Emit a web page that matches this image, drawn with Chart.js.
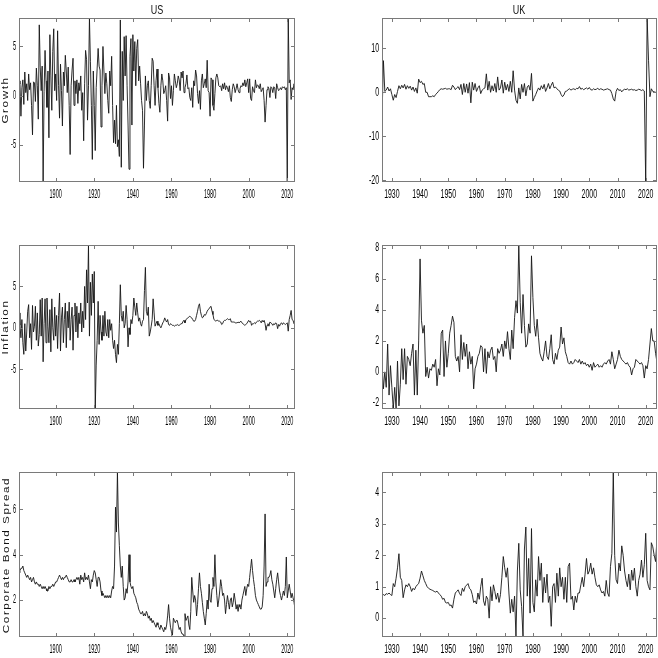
<!DOCTYPE html>
<html>
<head>
<meta charset="utf-8">
<script src="https://cdn.jsdelivr.net/npm/chart.js@4.4.1/dist/chart.umd.min.js"></script>
<style>
  body { margin: 0; background: #fff; }
  #wrap { position: relative; width: 658px; height: 658px; overflow: hidden; font-family: "Liberation Sans", Arial, sans-serif; color: #111; }
  canvas { position: absolute; }
  .title { position: absolute; width: 60px; text-align: center; font-size: 12px; line-height: 12px; transform: scaleX(0.75); }
  .ylab { position: absolute; width: 200px; text-align: center; font-size: 9px; line-height: 10px; letter-spacing: 1.2px; transform: rotate(-90deg) scaleX(1.3); }
</style>
</head>
<body>
<div id="wrap">
  <canvas id="usGrowthChart" width="330" height="210" style="left:0;top:0"></canvas>
  <canvas id="ukGrowthChart" width="328" height="210" style="left:330px;top:0"></canvas>
  <canvas id="usInflationChart" width="330" height="220" style="left:0;top:210px"></canvas>
  <canvas id="ukInflationChart" width="328" height="220" style="left:330px;top:210px"></canvas>
  <canvas id="usSpreadChart" width="330" height="228" style="left:0;top:430px"></canvas>
  <canvas id="ukSpreadChart" width="328" height="228" style="left:330px;top:430px"></canvas>
  <div class="title" style="left:127px;top:4px">US</div>
  <div class="title" style="left:489px;top:4px">UK</div>
  <div class="ylab" style="left:-95px;top:95px">Growth</div>
  <div class="ylab" style="left:-95px;top:322px">Inflation</div>
  <div class="ylab" style="left:-94px;top:550px">Corporate Bond Spread</div>
</div>
<script>
// half-year samples: US from 1881.0, UK from 1926.5
const usStart = 1881;
const ukStart = 1926.5;
const step = 0.5;

const usGrowth = [
  1.5, 1.2, -2.1, 0.8, 1.6, -0.9, 2.4, 0.3, 1.2, -0.5, 2.2, 0.6, 1.3, -1.0, -4.0, 1.4, 1.3, -0.6, 2.8, 1.0,
  -2.4, 7.2, 2.9, 0.5, 3.0, -8.8, 0.4, 4.6, 1.5, -1.2, 2.5, -4.3, 6.2, 2.0, -1.5, 4.5, 6.8, 0.5, 2.2, -0.5,
  6.6, 1.0, -2.3, 3.2, 0.5, -3.1, 2.4, 1.0, 4.1, 2.5, 0.3, 2.9, -1.0, -6.0, 1.0, 2.6, 3.8, -1.0, 1.5, 0.2,
  1.6, -0.8, 1.3, 0.5, 2.0, -1.5, 0.3, -4.6, 1.2, 4.6, 3.7, -2.5, 1.0, 7.9, 3.5, -1.0, -6.5, 2.5, -1.0, -5.6,
  0.8, 2.8, 4.8, 3.0, 2.6, -3.2, 1.0, 5.0, 2.5, 0.2, 2.3, 1.2, -0.5, -1.8, 2.5, 1.0, 4.0, -1.0, -4.8, -2.5,
  -4.9, -1.0, -5.2, -4.5, -6.2, 7.7, -7.3, 4.5, -0.5, 6.0, 2.0, 6.1, 1.0, -3.0, -7.5, 4.0, 5.8, -3.0, 6.2, 2.5,
  5.5, 1.0, 4.8, 5.7, 1.5, 3.0, 1.2, -0.5, -1.5, -7.4, -3.0, 2.0, -0.5, 1.0, 1.5, -0.5, -1.3, 1.0, 3.8, 3.5,
  1.0, -1.0, 1.5, 2.7, 0.8, -0.8, -1.7, 1.0, 2.2, 1.5, 0.2, 0.5, 1.0, -0.5, -2.6, 2.3, 1.8, -0.3, 1.0, -1.0,
  0.5, 2.2, 1.5, 0.8, 1.2, 2.0, 1.6, 0.5, 2.4, 1.8, 2.5, 0.3, 0.8, 1.2, 2.1, 0.7, 0.8, -0.2, -0.5, 0.8,
  -1.2, 1.5, 1.0, 2.6, 2.0, 0.2, -0.8, 0.5, -1.4, 1.5, 2.2, 0.8, 1.2, 1.7, 0.8, 3.6, 0.5, 0.3, -2.1, 1.8,
  1.6, -1.0, -1.5, 0.2, 1.8, 2.2, 1.8, 1.0, 0.9, 1.0, 0.5, 1.2, 0.7, 1.3, 0.6, 1.0, 0.8, 0.4, 1.0, -0.2,
  -0.6, 0.6, 1.2, 0.9, 0.3, 0.7, 1.2, 0.6, 0.3, 0.7, 1.0, 0.9, 1.3, 1.0, 1.6, 0.9, 1.3, 1.7, 0.3, 1.7,
  -0.3, -0.5, 0.9, 0.5, 0.3, 1.6, 0.8, 1.1, 1.0, 0.7, 1.2, 0.4, 0.6, 0.8, -0.5, -2.7, -1.0, 0.6, 0.9, 0.7,
  -0.2, 0.9, 0.8, 0.3, 0.9, 0.8, -0.3, 1.2, 0.8, 0.5, 0.6, 0.8, 0.6, 0.9, 0.8, 0.9, 0.6, 0.8, -8.8, 7.9,
  1.3, 1.6, -0.4, 0.8, 0.6, 1.2, 0.7
];

const ukGrowth = [
  -5.9, 7.2, 0.2, 0.5, 1.2, 0.3, 0.8, -0.5, -1.8,
  -0.5, -1.2, 0.2, 1.5, 0.8, 1.6, 1.0, 1.8, 0.7, 1.5, 0.9, 1.4, 0.5, 1.2, 0.2, 1.0, -0.2, 3.0, 2.2, 2.5,
  1.8, 2.0, 0.0, 0.0, -1.0, -1.0, -1.0, -0.8, -1.0, -0.5, -0.2, 0.2, 0.6, 0.8, 0.7, 0.8, 0.9, 0.7, 0.8, 0.8,
  0.6, 1.6, 1.2, 0.6, 1.0, 1.3, 0.6, 1.8, -0.5, 2.0, 0.0, 1.9, -0.2, 2.2, -2.4, 2.3, 0.5, 2.0, 0.2, 1.0,
  1.5, -0.3, 0.5, 0.8, 1.0, 4.2, 0.5, 2.5, 0.0, 1.5, 0.3, 2.0, 0.0, 3.5, 0.5, 1.0, 2.8, -0.2, 2.3, 0.5,
  1.8, 0.2, 2.5, 0.0, 4.9, 0.5, -1.8, -2.5, 1.0, -1.5, 1.8, 0.0, 2.0, -0.8, 1.2, 1.6, 0.5, 4.3, -2.0, -1.2,
  -0.5, 0.3, 1.0, 0.5, 1.5, 0.8, 1.8, 0.2, 1.0, 2.0, 0.8, 1.6, 2.3, 1.0, 1.2, 0.8, 0.5, 0.3, -0.5, -1.0,
  -0.6, 0.2, 0.3, 0.6, 0.8, 0.5, 0.7, 0.8, 0.6, 0.9, 0.8, 1.3, 0.7, 0.9, 0.6, 0.8, 1.0, 0.7, 1.1, 0.6,
  0.5, 0.8, 0.6, 0.7, 0.9, 0.6, 0.8, 0.7, 0.5, 0.6, 0.7, 0.8, 0.6, 0.5, -0.3, -1.5, -2.0, 0.2, 0.9, 0.4,
  0.6, 0.1, 0.5, 0.7, 0.6, 0.8, 0.5, 0.6, 0.7, 0.5, 0.6, 0.4, 0.5, 0.7, 0.6, 0.4, 0.6, 0.3, -20.4, 16.9,
  7.3, -1.0, 0.8, 0.2, 0.1, 0.0, 0.2
];

const usInflation = [
  1.8, 0.3, -1.2, 1.0, -1.8, -3.2, 0.5, -2.8, -0.5, 2.0, 2.8, -1.2, 0.5, -2.6, 2.7, -0.5, 0.2, 2.6, -1.5, 1.8,
  -2.2, -0.8, 3.4, -1.0, 3.6, -4.1, 0.5, 3.5, -1.8, 3.6, 0.2, -1.8, 2.2, -2.9, 3.5, 0.0, -1.5, 2.5, -1.0, 1.5,
  -2.5, 1.5, 4.2, -2.8, 1.2, 2.5, -1.8, 1.0, 3.0, -2.4, 2.0, 0.0, 3.1, -1.5, 1.0, 2.5, -2.7, 1.5, 3.0, -0.5,
  2.6, -1.2, 1.8, 0.5, 3.0, -0.5, 2.0, 0.0, 5.0, 1.0, 7.0, 3.0, 10.0, -1.0, 5.5, 1.5, 6.5, 3.0, 6.8, -9.8,
  -4.5, -1.5, 3.2, -2.0, 1.5, -0.5, -1.5, 1.5, -1.0, 2.0, -0.5, -1.0, 1.0, -1.2, 1.0, -0.3, 0.5, -1.5, -2.5, -1.5,
  -3.2, -4.2, -2.0, -3.2, 0.5, 5.2, 1.5, 0.8, 2.0, 0.0, 0.5, 2.7, 1.0, -2.3, 0.0, -0.8, 1.0, 0.5, 1.5, 3.6,
  2.5, 1.5, 3.0, 1.8, 0.8, 1.2, 0.5, 0.2, 0.8, 1.0, 4.5, 7.3, 2.0, 1.5, 2.5, -1.0, -0.5, 0.2, 1.0, 3.5,
  1.8, 0.2, 0.5, 0.8, 0.3, 0.5, 0.2, 0.0, 0.3, 0.6, 0.8, 1.2, 0.9, 0.7, 1.0, 0.4, 0.3, 0.5, 0.4, 0.3,
  0.3, 0.2, 0.3, 0.3, 0.4, 0.3, 0.3, 0.4, 0.5, 0.5, 0.8, 0.9, 0.6, 1.0, 1.1, 1.2, 1.3, 1.4, 1.3, 1.2,
  1.0, 0.8, 0.8, 1.0, 1.5, 2.0, 2.6, 2.9, 2.0, 1.5, 1.2, 1.3, 1.6, 1.5, 1.7, 2.0, 2.2, 2.3, 2.5, 2.6,
  2.0, 1.6, 1.0, 0.9, 0.8, 0.9, 0.9, 0.8, 0.8, 0.7, 0.4, 0.5, 0.8, 0.9, 0.9, 1.0, 1.1, 1.0, 1.0, 1.1,
  0.7, 0.7, 0.7, 0.7, 0.6, 0.6, 0.6, 0.7, 0.6, 0.6, 0.8, 0.6, 0.5, 0.4, 0.3, 0.4, 0.5, 0.7, 0.9, 0.7,
  0.8, 0.3, 0.5, 0.5, 0.6, 0.5, 0.7, 0.8, 0.8, 0.9, 0.8, 0.6, 0.9, 0.7, 0.9, 0.5, -0.3, 0.3, 0.5, 0.2,
  0.7, 0.6, 0.5, 0.3, 0.5, 0.4, 0.6, 0.5, -0.1, 0.4, 0.2, 0.5, 0.6, 0.4, 0.6, 0.5, 0.4, 0.5, 0.6, -0.4,
  1.0, 1.5, 2.1, 1.0, 0.9, 0.5, 0.8
];

const ukInflation = [
  0.6, -1.1, 0.0, -1.0, 1.8, -1.5, 0.4, -1.0, -2.4,
  -1.0, -2.4, 0.7, -2.2, -0.8, 1.5, -0.5, 1.5, -0.8, 1.0, 0.8, 0.4, 1.2, 1.8, -1.5, 1.4, -1.5, 2.0, 7.3, 3.3,
  2.5, 3.0, -0.3, 0.3, -0.4, 0.2, 0.1, 0.5, 0.3, 0.8, -0.9, 0.2, -0.2, 2.5, 2.7, -0.3, 2.0, 0.3, 1.2, 2.5,
  3.0, 3.6, 3.2, 1.0, 0.7, 1.0, 0.0, 2.4, 0.8, 1.9, 1.0, 1.8, 0.2, 1.3, 0.5, 1.0, -1.1, 0.2, 0.5, 1.0,
  1.2, 1.7, 1.6, 0.0, 1.5, -0.1, 1.3, 0.9, 1.4, 1.6, 0.8, 1.0, 0.0, 1.5, 1.2, 1.4, 1.8, 1.0, 2.0, 1.5,
  2.6, 1.5, 0.8, 2.7, 1.5, 3.5, 4.6, 3.8, 8.2, 4.5, 2.5, 5.0, 3.0, 1.6, 1.8, 3.1, 2.5, 7.5, 4.8, 3.0,
  2.3, 3.4, 2.2, 1.2, 0.9, 0.7, 1.3, 2.0, 1.0, 0.8, 1.5, 2.4, 0.8, 0.5, 1.2, 0.8, 1.4, 1.6, 2.9, 1.8,
  2.2, 1.3, 1.0, 0.6, 0.5, 0.7, 0.5, 0.6, 0.8, 0.7, 0.6, 0.8, 0.5, 0.7, 0.5, 0.6, 0.4, 0.5, 0.3, 0.5,
  0.1, 0.6, 0.3, 0.4, 0.5, 0.3, 0.4, 0.3, 0.5, 0.6, 0.5, 0.7, 0.8, 0.5, 1.3, 0.8, 0.2, 0.5, 0.8, 1.4,
  1.0, 0.8, 0.7, 0.6, 0.5, 0.6, 0.4, 0.3, -0.2, 0.2, 0.3, 0.8, 0.7, 0.6, 0.5, 0.6, 0.4, -0.4, 0.4, 0.2,
  0.8, 1.8, 2.8, 2.0, 2.0, 1.2, 0.6
];

const usSpread = [
  3.2, 3.3, 3.4, 3.4, 3.5, 3.3, 3.2, 3.1, 3.0, 3.1, 3.0, 2.9, 3.0, 2.8, 2.9, 3.0, 2.8, 2.7, 2.8, 2.7,
  2.7, 2.6, 2.7, 2.6, 2.5, 2.6, 2.5, 2.6, 2.5, 2.4, 2.4, 2.6, 2.5, 2.6, 2.6, 2.7, 2.6, 2.7, 2.8, 2.8,
  2.9, 3.0, 3.1, 3.0, 2.9, 3.0, 2.9, 3.0, 3.0, 3.1, 3.0, 2.9, 2.8, 2.8, 2.9, 2.8, 2.8, 2.9, 2.8, 2.9,
  3.0, 2.9, 3.0, 2.7, 3.1, 2.9, 3.0, 2.8, 3.2, 2.9, 3.0, 2.9, 3.1, 2.8, 2.5, 2.9, 2.8, 3.1, 3.3, 3.2,
  2.9, 2.6, 3.0, 3.0, 2.8, 2.4, 2.2, 2.3, 2.2, 2.1, 2.2, 2.1, 2.2, 2.1, 2.2, 2.1, 2.4, 2.6, 2.5, 3.5,
  6.1, 5.0, 7.65, 5.4, 4.4, 3.5, 3.0, 3.5, 2.6, 2.0, 2.1, 2.5, 2.3, 2.8, 4.0, 2.8, 2.6, 2.5, 2.6, 2.3,
  2.2, 2.1, 1.9, 1.8, 1.6, 1.5, 1.4, 1.4, 1.5, 1.3, 1.4, 1.3, 1.5, 1.4, 1.2, 1.3, 1.1, 1.2, 1.0, 1.1,
  1.0, 0.9, 0.8, 1.0, 0.9, 0.8, 0.7, 0.9, 0.8, 0.7, 0.6, 0.8, 0.7, 0.9, 1.3, 1.8, 1.2, 0.8, 0.6, 0.45,
  1.2, 1.1, 1.0, 1.1, 1.1, 0.9, 0.7, 0.8, 0.6, 0.5, 0.5, 0.4, 1.4, 1.1, 1.2, 1.3, 0.9, 0.7, 1.5, 3.0,
  2.4, 1.9, 2.2, 2.0, 1.3, 1.8, 2.5, 3.2, 2.6, 2.3, 1.9, 1.5, 1.2, 0.9, 1.4, 2.0, 1.6, 2.7, 2.0, 1.9,
  2.5, 3.0, 2.6, 4.0, 2.8, 2.2, 1.7, 2.0, 2.4, 2.9, 2.6, 2.2, 2.3, 2.0, 1.4, 1.8, 2.2, 1.9, 1.6, 2.0,
  2.1, 1.7, 1.9, 2.3, 2.0, 1.6, 1.8, 1.5, 1.8, 1.7, 1.6, 2.0, 2.2, 2.4, 2.6, 2.2, 2.5, 2.7, 2.6, 3.0,
  3.4, 3.8, 3.3, 2.9, 2.6, 2.2, 2.0, 1.9, 1.8, 1.7, 1.6, 1.6, 1.7, 2.2, 3.5, 5.8, 2.6, 2.8, 3.0, 3.0,
  3.1, 3.3, 2.9, 2.7, 2.4, 2.1, 2.5, 2.9, 3.2, 2.8, 2.4, 2.2, 2.0, 2.2, 2.4, 2.2, 2.6, 3.9, 2.1, 2.4,
  2.7, 2.4, 2.1, 2.3, 2.1, 1.9, 1.6
];

const ukSpread = [
  0.7, 0.75, 0.72, 0.78, 0.76, 0.8, 0.75, 0.72, 1.1,
  1.0, 1.27, 1.6, 2.05, 1.3, 1.2, 0.65, 0.9, 1.06, 1.0, 1.1, 1.0, 0.85, 0.95, 0.9, 1.0, 1.06, 1.1, 1.27, 1.5,
  1.35, 1.2, 1.1, 1.0, 0.95, 0.92, 0.9, 0.88, 0.85, 0.83, 0.86, 0.8, 0.75, 0.7, 0.6, 0.63, 0.5, 0.48, 0.5, 0.4,
  0.42, 0.32, 0.6, 0.8, 0.85, 0.9, 0.78, 0.72, 0.95, 0.85, 1.0, 1.05, 1.1, 0.95, 0.9, 0.75, 0.5, 0.55, 0.45, 0.8,
  0.6, 1.0, 1.27, 0.55, 0.4, 0.7, 0.6, 0.0, 1.0, 0.55, 1.06, 0.85, 0.6, 0.8, 0.5, 0.75, 1.3, 1.96, 1.6, 1.3,
  1.6, 0.8, 0.16, 0.6, 0.2, 0.7, -0.6, 1.5, 2.38, 0.9, 0.37, -0.6, 2.2, 2.9, 0.7, 1.9, 0.16, 2.85, 0.5, 0.2,
  1.22, 0.7, 1.96, 1.2, 1.75, 0.5, 1.3, 0.8, 1.4, 0.5, 0.7, -0.26, 1.0, 1.1, 0.5, 1.43, 0.7, 1.6, 1.0, 1.3,
  0.6, 1.3, 0.5, 1.64, 1.75, 0.6, 0.7, 0.26, 0.7, 0.5, 0.8, 0.8, 1.06, 1.3, 1.0, 1.4, 1.9, 1.4, 1.5, 1.75,
  1.4, 1.6, 1.3, 1.06, 1.0, 1.06, 0.9, 0.8, 0.85, 0.7, 1.2, 0.8, 0.69, 1.64, 2.06, 4.65, 2.0, 1.22, 1.1, 1.75,
  1.5, 2.3, 2.0, 1.5, 1.2, 1.0, 1.4, 0.9, 1.53, 1.2, 1.59, 1.0, 0.7, 1.2, 1.4, 1.85, 1.3, 1.7, 2.7, 1.2,
  1.0, 0.9, 2.4, 2.27, 2.0, 1.8, 2.53
];

// tick labels
const usYearTicks = [1900, 1920, 1940, 1960, 1980, 2000, 2020];
const ukYearTicks = [1930, 1940, 1950, 1960, 1970, 1980, 1990, 2000, 2010, 2020];
const usGrowthTicks = [-5, 0, 5];
const ukGrowthTicks = [-20, -10, 0, 10];
const usInflationTicks = [-5, 0, 5];
const ukInflationTicks = [-2, 0, 2, 4, 6, 8];
const usSpreadTicks = [2, 4, 6];
const ukSpreadTicks = [0, 1, 2, 3, 4];

// draws the MATLAB-style box, inward ticks and squeezed tick labels
const boxPlugin = {
  id: 'box',
  afterDraw(chart, args, opts) {
    const ctx = chart.ctx;
    const a = chart.chartArea;
    const x = chart.scales.x, y = chart.scales.y;
    ctx.save();
    ctx.strokeStyle = '#7a7a7a';
    ctx.lineWidth = 1;
    ctx.strokeRect(a.left + 0.5, a.top + 0.5, a.right - a.left - 1, a.bottom - a.top - 1);
    ctx.beginPath();
    opts.xTicks.forEach(v => {
      const px = Math.round(x.getPixelForValue(v)) + 0.5;
      ctx.moveTo(px, a.bottom); ctx.lineTo(px, a.bottom - 4);
      ctx.moveTo(px, a.top); ctx.lineTo(px, a.top + 4);
    });
    opts.yTicks.forEach(v => {
      const py = Math.round(y.getPixelForValue(v)) + 0.5;
      ctx.moveTo(a.left, py); ctx.lineTo(a.left + 4, py);
      ctx.moveTo(a.right, py); ctx.lineTo(a.right - 4, py);
    });
    ctx.stroke();

    ctx.fillStyle = '#000';
    ctx.font = '12px "Liberation Sans", Arial, sans-serif';
    ctx.textBaseline = 'middle';
    opts.xTicks.forEach(v => {
      ctx.save();
      ctx.translate(x.getPixelForValue(v), a.bottom + 13);
      ctx.scale(opts.squeeze, 1);
      ctx.textAlign = 'center';
      ctx.fillText(String(v), 0, 0);
      ctx.restore();
    });
    opts.yTicks.forEach(v => {
      ctx.save();
      ctx.translate(a.left - 3, y.getPixelForValue(v));
      ctx.scale(opts.squeeze, 1);
      ctx.textAlign = 'right';
      ctx.fillText(String(v), 0, 0);
      ctx.restore();
    });
    ctx.restore();
  }
};

function drawPanel(id, values, start, xMin, xMax, yMin, yMax, xTicks, yTicks, pad, squeeze) {
  const pts = values.map((v, i) => ({ x: start + i * step, y: v }));
  new Chart(document.getElementById(id), {
    type: 'line',
    data: {
      datasets: [{
        data: pts,
        borderColor: '#161616',
        borderWidth: 0.9,
        pointRadius: 0,
        tension: 0,
        fill: false
      }]
    },
    options: {
      responsive: false,
      animation: false,
      events: [],
      layout: { padding: pad },
      plugins: {
        legend: { display: false },
        tooltip: { enabled: false },
        box: { xTicks: xTicks, yTicks: yTicks, squeeze: squeeze }
      },
      scales: {
        x: { type: 'linear', display: false, min: xMin, max: xMax },
        y: { type: 'linear', display: false, min: yMin, max: yMax }
      }
    },
    plugins: [boxPlugin]
  });
}

const usPad = (t, b) => ({ left: 19, right: 35, top: t, bottom: b });
const ukPad = (t, b) => ({ left: 52, right: 1, top: t, bottom: b });

drawPanel('usGrowthChart', usGrowth, usStart, 1881, 2024, -8.8, 7.9, usYearTicks, usGrowthTicks, usPad(18, 28), 0.46);
drawPanel('ukGrowthChart', ukGrowth, ukStart, 1926.5, 2024, -20.4, 16.9, ukYearTicks, ukGrowthTicks, ukPad(18, 28), 0.58);
drawPanel('usInflationChart', usInflation, usStart, 1881, 2024, -9.8, 10, usYearTicks, usInflationTicks, usPad(35, 21), 0.46);
drawPanel('ukInflationChart', ukInflation, ukStart, 1926.5, 2024, -2.4, 8.2, ukYearTicks, ukInflationTicks, ukPad(35, 21), 0.58);
drawPanel('usSpreadChart', usSpread, usStart, 1881, 2024, 0.37, 7.65, usYearTicks, usSpreadTicks, usPad(42, 21), 0.46);
drawPanel('ukSpreadChart', ukSpread, ukStart, 1926.5, 2024, -0.6, 4.65, ukYearTicks, ukSpreadTicks, ukPad(42, 21), 0.58);
</script>
</body>
</html>
